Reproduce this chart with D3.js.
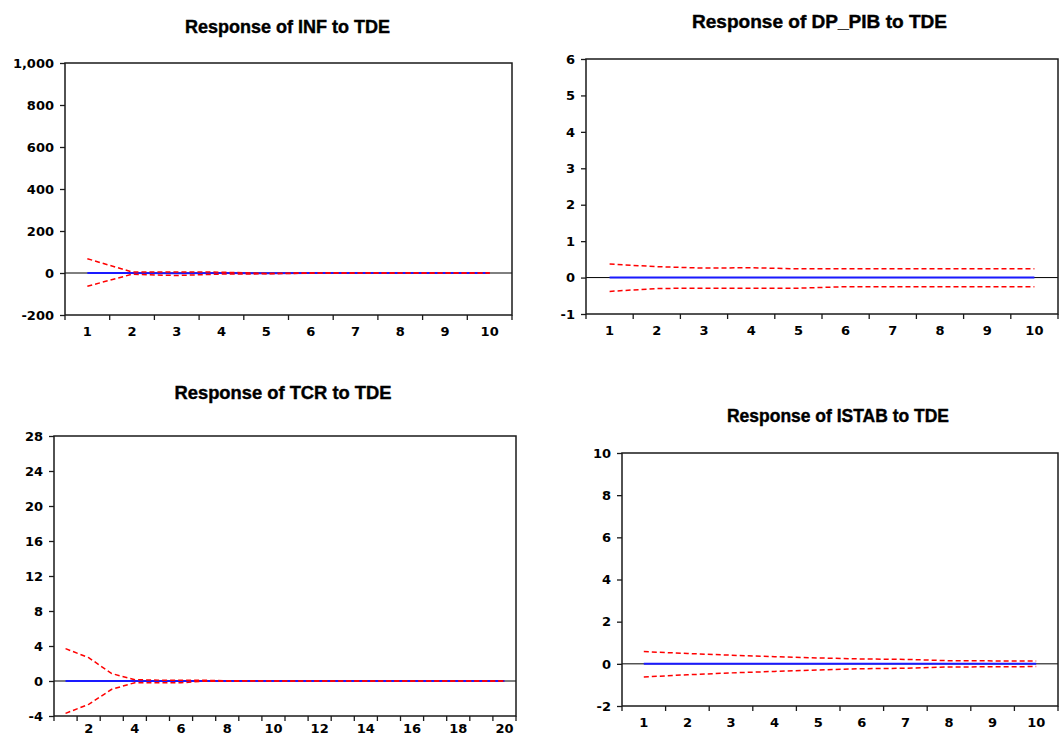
<!DOCTYPE html>
<meta charset="utf-8">
<head>
<title>Response to TDE</title>
<style>
body {
  margin: 0;
  background: #fff;
}
.title {
  font: bold 18px "Liberation Sans", Arial, sans-serif;
  fill: #000;
  stroke: #000;
  stroke-width: 0.4;
}
.tick text,
.xlab {
  font: bold 13px "DejaVu Sans", sans-serif;
  fill: #000;
}
.tick line,
.xtick {
  stroke: #1a1a1a;
  stroke-width: 1.3;
}
.frame {
  fill: none;
  stroke: #1a1a1a;
  stroke-width: 1.5;
}
.zero {
  stroke: #000;
  stroke-width: 1;
}
.resp {
  fill: none;
  stroke: #1a1aff;
  stroke-width: 2;
}
.band {
  fill: none;
  stroke: #ff0000;
  stroke-width: 1.5;
  stroke-dasharray: 5,3;
}
</style>
</head>
<body>
<script src="https://cdnjs.cloudflare.com/ajax/libs/d3/7.8.5/d3.min.js"></script>
<script>

// Response of INF to TDE (periods 1..10)
var inf_resp = [0, 0, -1, 0, -1, 0, 0, 0, 0, 0];
var inf_upper = [68, 5, 5, 4, -2, 0.5, 0.3, 0.2, 0.1, 0.1];
var inf_lower = [-63, -6, -12, -5, -4, -0.5, -0.3, -0.2, -0.1, -0.1];
var inf_yticks = [-200, 0, 200, 400, 600, 800, 1000];

// Response of DP_PIB to TDE (periods 1..10)
var pib_resp = [0, 0, 0, 0, 0, 0, 0, 0, 0, 0];
var pib_upper = [0.37, 0.30, 0.26, 0.27, 0.24, 0.24, 0.24, 0.24, 0.24, 0.24];
var pib_lower = [-0.38, -0.30, -0.29, -0.29, -0.29, -0.25, -0.25, -0.25, -0.25, -0.25];
var pib_yticks = [-1, 0, 1, 2, 3, 4, 5, 6];

// Response of TCR to TDE (periods 1..20)
var tcr_resp = [0, 0, 0, 0, 0, 0, 0, 0, 0, 0, 0, 0, 0, 0, 0, 0, 0, 0, 0, 0];
var tcr_upper = [3.7, 2.67, 0.85, 0.15, 0.1, 0.1, 0.08, 0.03, 0.02, 0.01,
                 0, 0, 0, 0, 0, 0, 0, 0, 0, 0];
var tcr_lower = [-3.7, -2.67, -0.95, -0.19, -0.2, -0.2, -0.02, -0.02, -0.01, -0.01,
                 0, 0, 0, 0, 0, 0, 0, 0, 0, 0];
var tcr_yticks = [-4, 0, 4, 8, 12, 16, 20, 24, 28];

// Response of ISTAB to TDE (periods 1..10)
var istab_resp = [0, 0, 0, 0, 0, 0, 0, 0, 0, 0];
var istab_upper = [0.58, 0.49, 0.41, 0.34, 0.28, 0.23, 0.21, 0.15, 0.14, 0.13];
var istab_lower = [-0.62, -0.52, -0.43, -0.36, -0.29, -0.23, -0.21, -0.15, -0.14, -0.13];
var istab_yticks = [-2, 0, 2, 4, 6, 8, 10];

var panels = [
  {title: "Response of INF to TDE", resp: inf_resp, upper: inf_upper, lower: inf_lower,
   yticks: inf_yticks, labelEvery: 1, labelDy: 21,
   left: 65, top: 63, right: 512, bottom: 315, tx: 287.5, ty: 33, tw: 205},
  {title: "Response of DP_PIB to TDE", resp: pib_resp, upper: pib_upper, lower: pib_lower,
   yticks: pib_yticks, labelEvery: 1, labelDy: 21,
   left: 586, top: 59, right: 1058, bottom: 314, tx: 819.5, ty: 28, tw: 255},
  {title: "Response of TCR to TDE", resp: tcr_resp, upper: tcr_upper, lower: tcr_lower,
   yticks: tcr_yticks, labelEvery: 2, labelDy: 17,
   left: 54, top: 436, right: 516, bottom: 716, tx: 283, ty: 399, tw: 217},
  {title: "Response of ISTAB to TDE", resp: istab_resp, upper: istab_upper, lower: istab_lower,
   yticks: istab_yticks, labelEvery: 1, labelDy: 21,
   left: 622, top: 453, right: 1058, bottom: 706, tx: 838, ty: 422, tw: 222}
];

var svg = d3.select("body").append("svg")
    .attr("width", 1061)
    .attr("height", 738);

var fmt = d3.format(",");

function drawPanel(p) {
  var n = p.resp.length;
  var periods = d3.range(1, n + 1);

  var x = d3.scaleLinear()
      .domain([0.5, n + 0.5])
      .range([p.left, p.right]);

  var y = d3.scaleLinear()
      .domain([d3.min(p.yticks), d3.max(p.yticks)])
      .range([p.bottom, p.top]);

  var g = svg.append("g");

  // Title
  g.append("text")
      .attr("class", "title")
      .attr("x", p.tx - p.tw / 2)
      .attr("y", p.ty)
      .attr("textLength", p.tw)
      .attr("lengthAdjust", "spacingAndGlyphs")
      .text(p.title);

  // Y axis
  var yAxis = d3.axisLeft(y)
      .tickValues(p.yticks)
      .tickSize(5)
      .tickPadding(6)
      .tickFormat(function(d) { return fmt(d).replace("\u2212", "-"); });

  g.append("g")
      .attr("transform", "translate(" + p.left + ",0)")
      .call(yAxis)
      .call(function(a) { a.select(".domain").remove(); });

  // X ticks at band boundaries
  g.selectAll(".xtick")
      .data(d3.range(0, n + 1))
      .enter().append("line")
      .attr("class", "xtick")
      .attr("x1", function(d) { return x(d + 0.5); })
      .attr("x2", function(d) { return x(d + 0.5); })
      .attr("y1", p.bottom)
      .attr("y2", p.bottom + 5);

  // X labels at band centres
  g.selectAll(".xlab")
      .data(periods.filter(function(d) { return d % p.labelEvery === 0; }))
      .enter().append("text")
      .attr("class", "xlab")
      .attr("x", function(d) { return x(d); })
      .attr("y", p.bottom + p.labelDy)
      .attr("text-anchor", "middle")
      .text(function(d) { return d; });

  // Zero line
  g.append("line")
      .attr("class", "zero")
      .attr("x1", p.left)
      .attr("x2", p.right)
      .attr("y1", y(0))
      .attr("y2", y(0));

  var line = d3.line()
      .x(function(d, i) { return x(i + 1); })
      .y(function(d) { return y(d); });

  g.append("path")
      .attr("class", "resp")
      .attr("d", line(p.resp));

  g.append("path")
      .attr("class", "band")
      .attr("d", line(p.upper));

  g.append("path")
      .attr("class", "band")
      .attr("d", line(p.lower));

  // Frame
  g.append("rect")
      .attr("class", "frame")
      .attr("x", p.left)
      .attr("y", p.top)
      .attr("width", p.right - p.left)
      .attr("height", p.bottom - p.top);
}

panels.forEach(drawPanel);

</script>
</body>
